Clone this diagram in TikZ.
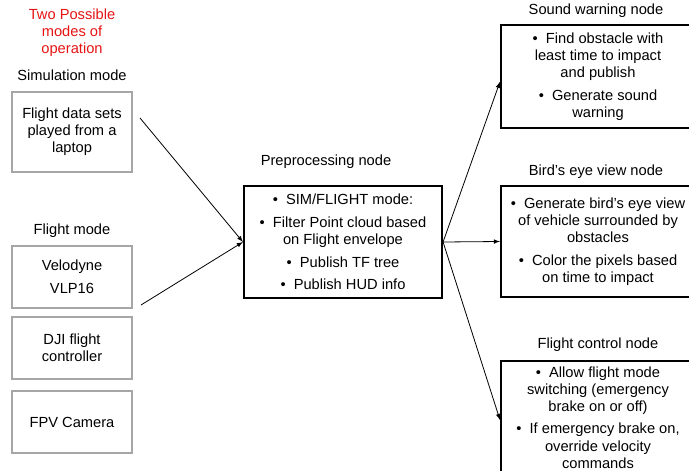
\documentclass[tikz,border=0pt]{standalone}
\usepackage{fontspec}
\setmainfont{Liberation Sans}
\usetikzlibrary{positioning}
\definecolor{modered}{RGB}{230,20,20}
\begin{document}
\begin{tikzpicture}[x=0.75pt, y=-0.75pt, >=latex,
    srcbox/.style={draw=gray!70, line width=0.8pt, minimum width=90pt, align=center, inner sep=0pt},
    rosbox/.style={draw, line width=1.6pt, align=center, inner sep=0pt},
    boxlabel/.style={align=center, inner sep=0pt},
    every node/.style={font=\fontsize{11}{12.9}\selectfont}]
    \useasboundingbox (0, 0) rectangle (689, 471);
    \node [boxlabel, text=modered] (modes) at (72, 33) {Two Possible\\modes of\\operation};
    \node [boxlabel] (simlabel) at (72, 75) {Simulation mode};
    \node [srcbox, minimum height=60pt] (sim) at (72, 132) {Flight data sets\\played from a\\laptop};
    \node [boxlabel] (flightlabel) at (72, 231) {Flight mode};
    \node [srcbox, minimum height=46.5pt] (velodyne) at (72, 277) {Velodyne\\[4pt]VLP16};
    \node [srcbox, minimum height=46.5pt] (dji) at (72, 348) {DJI flight\\controller};
    \node [srcbox, minimum height=46.5pt] (fpv) at (72, 422) {FPV Camera};
    \node [boxlabel] (prelabel) at (326, 162) {Preprocessing node};
    \node [rosbox, minimum width=148.5pt, minimum height=84pt] (pre) at (343, 242)
        {\textbullet\ \ SIM/FLIGHT mode:\\[4pt]
         \textbullet\ \ Filter Point cloud based\\on Flight envelope\\[4pt]
         \textbullet\ \ Publish TF tree\\[4pt]
         \textbullet\ \ Publish HUD info};
    \node [boxlabel] (soundlabel) at (596, 11) {Sound warning node};
    \node [rosbox, minimum width=145.5pt, minimum height=77pt] (sound) at (598, 76.5)
        {\textbullet\ \ Find obstacle with\\least time to impact\\and publish\\[4pt]
         \textbullet\ \ Generate sound\\warning};
    \node [boxlabel] (birdlabel) at (596, 172) {Bird’s eye view node};
    \node [rosbox, minimum width=145.5pt, minimum height=83pt] (bird) at (598, 241.5)
        {\textbullet\ \ Generate bird’s eye view\\of vehicle surrounded by\\obstacles\\[4pt]
         \textbullet\ \ Color the pixels based\\on time to impact};
    \node [boxlabel] (fclabel) at (598, 345) {Flight control node};
    \node [rosbox, minimum width=145.5pt, inner ysep=4pt, anchor=north] (fc) at (598, 360)
        {\textbullet\ \ Allow flight mode\\switching (emergency\\brake on or off)\\[4pt]
         \textbullet\ \ If emergency brake on,\\override velocity\\commands};
    \coordinate (simout) at (140, 118);
    \coordinate (velout) at (141, 305);
    \draw [->, line width=0.6pt] (simout) -- (pre.west);
    \draw [->, line width=0.6pt] (velout) -- (pre.west);
    \draw [->, line width=0.6pt] (pre.east) -- ([yshift=-4pt]sound.west);
    \draw [->, line width=0.6pt] (pre.east) -- (bird.west);
    \draw [->, line width=0.6pt] (pre.east) -- (500, 420);
\end{tikzpicture}
\end{document}
